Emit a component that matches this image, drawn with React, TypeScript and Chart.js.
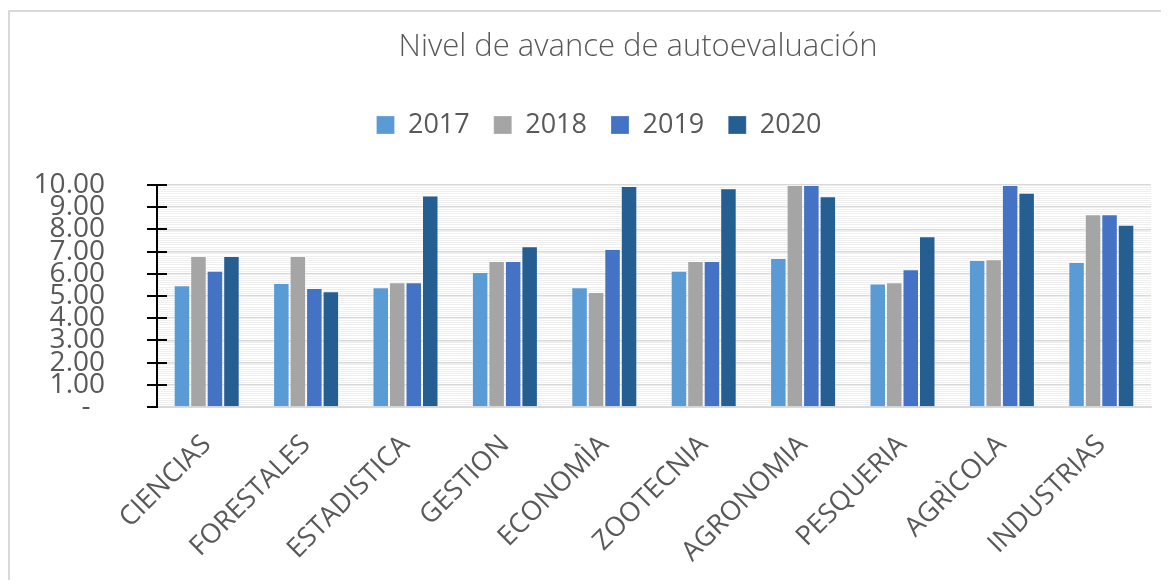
import React, { useEffect, useRef } from 'react';
import { Chart, registerables } from 'chart.js';
Chart.register(...registerables);

const categories = ['CIENCIAS', 'FORESTALES', 'ESTADISTICA', 'GESTION', 'ECONOMÌA', 'ZOOTECNIA', 'AGRONOMIA', 'PESQUERIA', 'AGRÌCOLA', 'INDUSTRIAS'];
const seriesLabels = ['2017', '2018', '2019', '2020'];
const values2017 = [5.48, 5.59, 5.39, 6.08, 5.39, 6.14, 6.71, 5.56, 6.62, 6.53];
const values2018 = [6.8, 6.8, 5.62, 6.58, 5.18, 6.58, 10.0, 5.62, 6.65, 8.68];
const values2019 = [6.14, 5.36, 5.62, 6.58, 7.12, 6.58, 10.0, 6.2, 10.0, 8.68];
const values2020 = [6.8, 5.21, 9.53, 7.24, 9.95, 9.85, 9.49, 7.69, 9.65, 8.21];
const seriesColors = ['#5B9BD5', '#A5A5A5', '#4472C4', '#255E91'];
const yMajorTicks = [0, 1, 2, 3, 4, 5, 6, 7, 8, 9, 10];
const chartTitle = 'Nivel de avance de autoevaluación';
const headingText = 'estadio';

const CANVAS_W = 1159;
const CANVAS_H = 576;
const TITLE_DX = 57.5;
const LEGEND_DX = 18.5;
const TITLE_PAD_TOP = 16.5;
const TITLE_PAD_BOTTOM = 21.8;
const TITLE_SIZE = 31;
const PLOT_TOP = 173;

const isInt = (v: number) => Math.abs(v - Math.round(v)) < 1e-6;

const App: React.FC = () => {
  const ref = useRef<HTMLCanvasElement | null>(null);
  useEffect(() => {
    const canvas = ref.current;
    if (!canvas) return;
    Chart.defaults.font.family = "'Open Sans', sans-serif";

    const legendFit = {
      id: 'legendFit',
      beforeInit(chart: any) {
        const legend = chart.legend;
        if (!legend) return;
        const orig = legend.fit;
        legend.fit = function () {
          orig.call(this);
          this.height = PLOT_TOP - (TITLE_PAD_TOP + TITLE_SIZE * 1.2 + TITLE_PAD_BOTTOM);
        };
      },
      afterLayout(chart: any) {
        const t = chart.titleBlock;
        if (t) { t.left += TITLE_DX; t.right += TITLE_DX; }
        const l = chart.legend;
        if (l) { l.left += LEGEND_DX; l.right += LEGEND_DX; }
      },
    };

    const yAxisPlugin = {
      id: 'yAxisCross',
      afterDatasetsDraw(chart: any) {
        const { ctx, chartArea, scales } = chart;
        const y = scales.y;
        const x = chartArea.left;
        ctx.save();
        ctx.strokeStyle = '#000000';
        ctx.lineWidth = 2;
        ctx.beginPath();
        ctx.moveTo(x, y.getPixelForValue(10) - 1);
        ctx.lineTo(x, y.getPixelForValue(0) + 1);
        for (const v of yMajorTicks) {
          const py = Math.round(y.getPixelForValue(v));
          ctx.moveTo(x - 10, py);
          ctx.lineTo(v === 0 ? x : x + 10, py);
        }
        ctx.stroke();
        ctx.restore();
      },
    };

    const allValues = [values2017, values2018, values2019, values2020];
    const chart = new Chart(canvas, {
      type: 'bar',
      data: {
        labels: categories,
        datasets: seriesLabels.map((label, i) => ({
          label,
          data: allValues[i],
          backgroundColor: seriesColors[i],
          borderColor: 'rgba(255,255,255,0.25)',
          borderWidth: 1,
          categoryPercentage: 0.664,
          barPercentage: 1.0,
        })),
      },
      options: {
        animation: false,
        responsive: false,
        maintainAspectRatio: false,
        layout: { padding: { left: 0, right: 18, top: 0, bottom: 0 } },
        plugins: {
          title: {
            display: true,
            text: chartTitle,
            color: '#595959',
            font: { family: "'Open Sans', sans-serif", size: TITLE_SIZE, weight: 300 as any, lineHeight: 1.2 },
            padding: { top: TITLE_PAD_TOP, bottom: TITLE_PAD_BOTTOM },
          },
          legend: {
            display: true,
            position: 'top',
            labels: {
              boxWidth: 18,
              boxHeight: 18,
              padding: 24,
              color: '#595959',
              font: { family: "'Open Sans', sans-serif", size: 27 },
            },
          },
          tooltip: { enabled: false },
        },
        scales: {
          x: {
            grid: { display: false, drawTicks: false },
            border: { display: true, color: '#d9d9d9', width: 2 },
            ticks: {
              autoSkip: false,
              minRotation: 45,
              maxRotation: 45,
              padding: 22,
              color: '#595959',
              font: { family: "'Open Sans', sans-serif", size: 27 },
            },
            afterFit: (s: any) => { s.height = CANVAS_H - 395; },
          },
          y: {
            min: 0,
            max: 10,
            ticks: {
              stepSize: 0.1,
              autoSkip: false,
              padding: 52,
              color: '#595959',
              font: { family: "'Open Sans', sans-serif", size: 28 },
              callback: (v: any) => {
                const n = Number(v);
                if (!isInt(n)) return '';
                return Math.round(n) === 0 ? '-  ' : n.toFixed(2);
              },
            },
            grid: {
              drawTicks: false,
              color: (c: any) => (isInt(c.tick.value) ? '#d9d9d9' : '#efefef'),
              lineWidth: (c: any) => (isInt(c.tick.value) ? 1.5 : 1),
            },
            border: { display: false },
            afterFit: (s: any) => { s.width = 147; },
          },
        },
      },
      plugins: [legendFit, yAxisPlugin],
    });
    return () => chart.destroy();
  }, []);

  return (
    <div style={{ position: 'relative', height: 572, overflow: 'visible' }}>
      <div
        style={{
          position: 'absolute',
          left: 0,
          top: 2,
          width: 1161,
          height: 570,
          borderLeft: '2px solid #d9d9d9',
          borderTop: '2px solid #d9d9d9',
          boxSizing: 'border-box',
          overflow: 'hidden',
          background: '#fff',
        }}
      >
        <canvas ref={ref} width={CANVAS_W} height={CANVAS_H} style={{ display: 'block', width: CANVAS_W, height: CANVAS_H }} />
      </div>
      <div
        style={{
          position: 'absolute',
          left: 1,
          top: -8,
          height: 10,
          width: 200,
          overflow: 'hidden',
          zIndex: 2,
        }}
      >
        <div
          style={{
            position: 'absolute',
            left: 0,
            top: -18,
            fontFamily: "'Liberation Serif', 'Times New Roman', serif",
            fontWeight: 700,
            fontSize: 31,
            lineHeight: '30px',
            color: '#000000',
            whiteSpace: 'nowrap',
          }}
        >
          {headingText}
        </div>
      </div>
    </div>
  );
};

export default App;
